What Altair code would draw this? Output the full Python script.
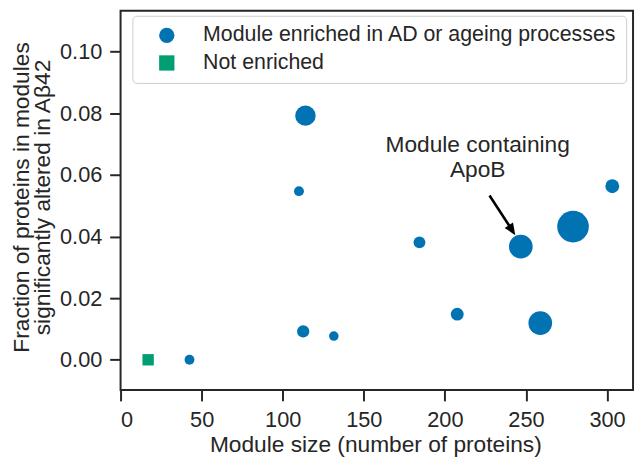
import altair as alt
import pandas as pd

# ---- data ----
module_size = [17, 42.5, 112.6, 131.5, 207.6, 258.8, 114, 110, 184.3, 246.8, 279, 303.2]
fraction = [0.0, 0.0, 0.0092, 0.0077, 0.0148, 0.0119, 0.0792, 0.0547, 0.0381, 0.0367, 0.0432, 0.0563]
weight = [11.5, 10, 12.4, 9.7, 13, 24, 20.7, 10, 12, 24, 32, 14]
ENR = "Module enriched in AD or ageing processes"
NOT = "Not enriched"
group = [NOT] + [ENR] * 11

annot_text = ["Module containing\nApoB"]
annot_x = [220.2]
annot_y = [0.0674]
arrow_start = (227.5, 0.0533)
arrow_end = (240.3, 0.0430)
arrow_tip = (243.4, 0.0404)

x_ticks = [0, 50, 100, 150, 200, 250, 300]
y_ticks = [0.0, 0.02, 0.04, 0.06, 0.08, 0.10]

FONT = "Liberation Sans"
INK = "#262626"
BLUE = "#0173B2"
GREEN = "#029E73"

df = pd.DataFrame({"size": module_size, "frac": fraction, "w": weight, "group": group})
ann = pd.DataFrame({"size": annot_x, "frac": annot_y, "label": annot_text})
arr = pd.DataFrame({"size": [arrow_start[0]], "frac": [arrow_start[1]],
                    "size2": [arrow_end[0]], "frac2": [arrow_end[1]]})
tip = pd.DataFrame({"size": [arrow_tip[0]], "frac": [arrow_tip[1]]})

x_scale = alt.Scale(domain=[0, 316], nice=False, zero=False)
y_scale = alt.Scale(domain=[-0.0098, 0.1132], nice=False, zero=False)

x_axis = alt.Axis(values=x_ticks, format="d", grid=False, domain=False,
                  labelFont=FONT, labelFontSize=22, labelColor=INK, labelPadding=9,
                  tickSize=11, tickWidth=2, tickColor=INK,
                  titleFont=FONT, titleFontSize=23, titleColor=INK, titleFontWeight="normal",
                  titleX=258, titleY=62, titleBaseline="alphabetic")
y_axis = alt.Axis(values=y_ticks, format=".2f", grid=False, domain=False,
                  labelFont=FONT, labelFontSize=22, labelColor=INK, labelPadding=8,
                  tickSize=11, tickWidth=2, tickColor=INK,
                  titleFont=FONT, titleFontSize=23, titleColor=INK, titleFontWeight="normal",
                  titleAngle=270, titleX=-93, titleY=188.5, titleAlign="center",
                  titleBaseline="alphabetic", titleLineHeight=21)

X_TITLE = "Module size (number of proteins)"
Y_TITLE = ["Fraction of proteins in modules", "significantly altered in A\u03b242"]


def X(field="size"):
    return alt.X(f"{field}:Q", scale=x_scale, axis=x_axis, title=X_TITLE)


def Y(field="frac"):
    return alt.Y(f"{field}:Q", scale=y_scale, axis=y_axis, title=Y_TITLE)


legend = alt.Legend(title=None, orient="none", legendX=12, legendY=5,
                    labelFont=FONT, labelFontSize=21.6, labelColor=INK, labelLimit=0,
                    symbolSize=240, symbolStrokeWidth=0, symbolOffset=15,
                    labelOffset=26, rowPadding=5, padding=9,
                    strokeColor="#cccccc", fillColor="white", cornerRadius=4)

points = alt.Chart(df).mark_point(filled=True, opacity=1, strokeWidth=0).encode(
    x=X(), y=Y(),
    color=alt.Color("group:N", scale=alt.Scale(domain=[ENR, NOT], range=[BLUE, GREEN]), legend=legend),
    shape=alt.Shape("group:N", scale=alt.Scale(domain=[ENR, NOT], range=["circle", "square"]), legend=legend),
    size=alt.Size("w:Q", scale=alt.Scale(type="pow", exponent=2, domain=[0, 32], range=[0, 1024]), legend=None),
)

text = alt.Chart(ann).mark_text(font=FONT, fontSize=23, color=INK, align="center",
                                baseline="alphabetic", lineBreak="\n", lineHeight=25).encode(
    x=X(), y=Y(), text="label:N")

rule = alt.Chart(arr).mark_rule(color="black", strokeWidth=2.6).encode(
    x=X(), y=Y(), x2="size2:Q", y2="frac2:Q")

head = alt.Chart(tip).mark_point(shape="M0,0L-1,2.4L1,2.4Z", filled=True, color="black",
                                 opacity=1, strokeWidth=0, size=100, angle=147).encode(
    x=X(), y=Y())

chart = alt.layer(points, text, rule, head).properties(
    width=519, height=384,
    autosize=alt.AutoSizeParams(type="none"),
    padding={"left": 114, "top": 0, "right": 3, "bottom": 66},
).configure_view(stroke=INK, strokeWidth=2)

chart.save("out.html", embed_options={"renderer": "svg", "actions": False})
